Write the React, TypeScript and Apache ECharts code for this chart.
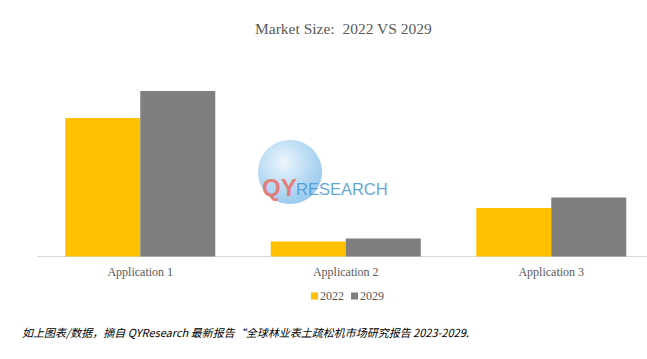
import React, { useEffect, useRef } from "react";
import * as echarts from "echarts";

const categories = ["Application 1", "Application 2", "Application 3"];
const seriesNames = ["2022", "2029"];
const values2022 = [138.5, 15, 48.5];
const values2029 = [165.5, 18, 59];
const titleText = "Market Size:  2022 VS 2029";
const footnote = "如上图表/数据，摘自 QYResearch 最新报告“全球林业表土疏松机市场研究报告 2023-2029.";

export default function App() {
  const ref = useRef<HTMLDivElement>(null);
  useEffect(() => {
    if (!ref.current) return;
    const chart = echarts.init(ref.current, null, { renderer: "svg" });
    const serif = "'Liberation Serif', 'DejaVu Serif', serif";
    chart.setOption({
      animation: false,
      backgroundColor: "#ffffff",
      title: {
        text: titleText,
        left: 255,
        top: 20,
        padding: 0,
        textStyle: { fontFamily: serif, fontSize: 15.5, fontWeight: "normal", color: "#595959" },
      },
      legend: {
        data: seriesNames,
        left: 311,
        top: 290,
        padding: 0,
        itemWidth: 7,
        itemHeight: 7,
        itemGap: 7,
        icon: "rect",
        textStyle: { fontFamily: serif, fontSize: 12, color: "#595959", padding: [0, 0, 0, -3] },
      },
      grid: { left: 37.5, top: 40, width: 616.5, height: 216.5, outerBoundsMode: "none", containLabel: false },
      xAxis: {
        type: "category",
        data: categories,
        axisLine: { show: true, lineStyle: { color: "#d9d9d9", width: 1 } },
        axisTick: { show: false },
        axisLabel: { fontFamily: serif, fontSize: 12, color: "#595959", margin: 9 },
      },
      yAxis: {
        type: "value",
        min: 0,
        max: 216.5,
        show: false,
        splitLine: { show: false },
      },
      graphic: [
        {
          type: "circle",
          shape: { cx: 290, cy: 172, r: 32 },
          style: {
            fill: new echarts.graphic.RadialGradient(0.4, 0.35, 0.7, [
              { offset: 0, color: "rgba(235,245,252,0.9)" },
              { offset: 1, color: "rgba(130,190,235,0.85)" },
            ]),
          },
          z: 10,
        },
        {
          type: "text",
          x: 262,
          y: 187,
          style: { text: "QY", font: "bold 24px 'Liberation Sans', Arial, sans-serif", fill: "rgba(232,110,100,0.85)", textVerticalAlign: "middle" },
          z: 11,
        },
        {
          type: "text",
          x: 296,
          y: 189,
          style: { text: "RESEARCH", font: "16.5px 'Liberation Sans', Arial, sans-serif", fill: "rgba(70,150,215,0.85)", textVerticalAlign: "middle" },
          z: 11,
        },
        {
          type: "text",
          x: 22,
          y: 332,
          style: {
            text: footnote,
            font: "italic 11px 'Noto Sans CJK SC', sans-serif",
            fill: "#000000",
            textVerticalAlign: "middle",
          },
        },
      ],
      series: [
        {
          name: seriesNames[0],
          type: "bar",
          data: values2022,
          barGap: "0%",
          barCategoryGap: "27%",
          itemStyle: { color: "#ffc000" },
        },
        {
          name: seriesNames[1],
          type: "bar",
          data: values2029,
          itemStyle: { color: "#7f7f7f" },
        },
      ],
    });
    return () => chart.dispose();
  }, []);
  return (
    <div
      ref={ref}
      style={{ position: "absolute", left: 0, top: 0, width: 647, height: 359 }}
    />
  );
}
